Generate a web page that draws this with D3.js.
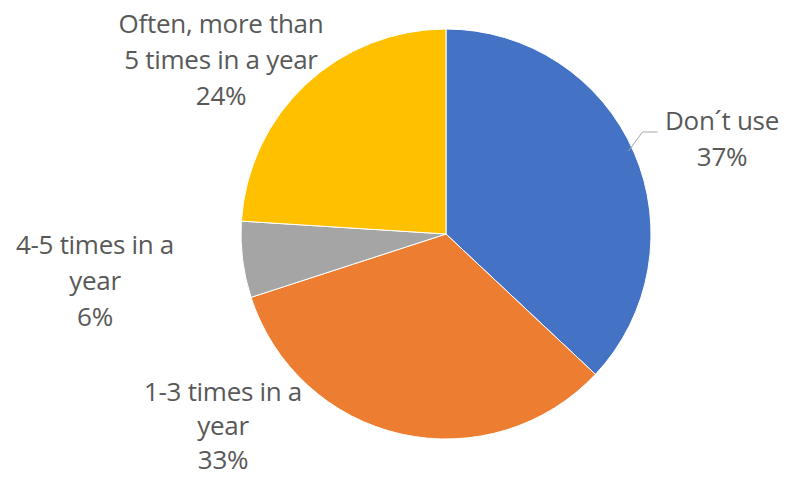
<!DOCTYPE html>
<html>
<head>
<meta charset="utf-8">
<script src="https://cdn.jsdelivr.net/npm/d3@7"></script>
<style>
  html, body { margin: 0; padding: 0; background: #fff; }
  svg text { font-family: "Open Sans", "Liberation Sans", sans-serif; fill: #595959; }
</style>
</head>
<body>
<div id="chart"></div>
<script>
const categories = ["Don\u00b4t use", "1-3 times in a year", "4-5 times in a year", "Often, more than 5 times in a year"];
const values = [37, 33, 6, 24];
const colors = ["#4472C4", "#ED7D31", "#A5A5A5", "#FFC000"];
const labelLines = [
  ["Don\u00b4t use", "37%"],
  ["1-3 times in a", "year", "33%"],
  ["4-5 times in a", "year", "6%"],
  ["Often, more than", "5 times in a year", "24%"]
];

const width = 786;
const height = 477;
const cx = 446, cy = 234, radius = 205;
const lineH = 36;

// where Excel dropped each label (centre of the first line)
const labelAt = [
  { x: 722, y: 123 },
  { x: 223, y: 394 },
  { x: 95, y: 247 },
  { x: 221, y: 26 }
];

const svg = d3.select('#chart')
  .append('svg')
  .attr('width', width)
  .attr('height', height);

const pie = d3.pie().sort(null).value(d => d);
const arcs = pie(values);
const arc = d3.arc().innerRadius(0).outerRadius(radius);

const g = svg.append('g').attr('transform', `translate(${cx},${cy})`);

g.selectAll('path')
  .data(arcs)
  .enter()
  .append('path')
  .attr('d', arc)
  .attr('fill', (d, i) => colors[i])
  .attr('stroke', '#fff')
  .attr('stroke-width', 1);

// leader line for the first slice
const a0 = arcs[0];
const ang = (a0.startAngle + a0.endAngle) / 2;
const ex = Math.sin(ang) * radius * 0.97;
const ey = -Math.cos(ang) * radius * 0.97 - 4;
const elbowY = labelAt[0].y - cy + 9;
g.append('polyline')
  .attr('points', [[ex, ey], [ex + 14, elbowY], [ex + 29, elbowY]].map(p => p.join(',')).join(' '))
  .attr('fill', 'none')
  .attr('stroke', '#a6a6a6')
  .attr('stroke-width', 1);

const labels = svg.append('g')
  .selectAll('text')
  .data(labelLines)
  .enter()
  .append('text')
  .attr('text-anchor', 'middle')
  .attr('font-size', '26px')
  .attr('letter-spacing', '-0.3px')
  .attr('dominant-baseline', 'middle');

labels.each(function (lines, i) {
  d3.select(this).selectAll('tspan')
    .data(lines)
    .enter()
    .append('tspan')
    .attr('x', labelAt[i].x)
    .attr('y', (l, j) => labelAt[i].y + j * (i === 1 ? 34 : lineH))
    .text(l => l);
});
</script>
</body>
</html>
